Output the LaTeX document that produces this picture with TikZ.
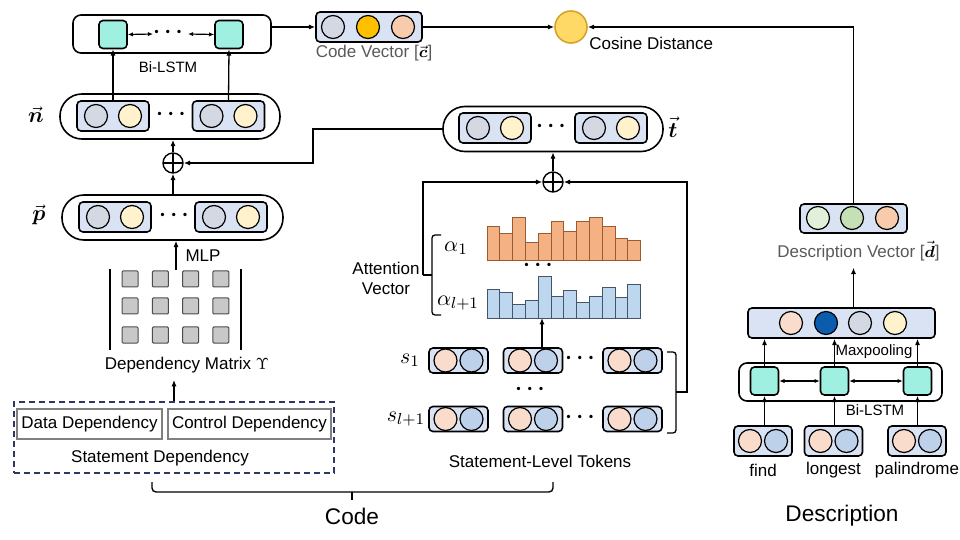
\documentclass[tikz,border=0pt]{standalone}
\usepackage{amsmath,amssymb}
\usepackage{fontspec}
\setmainfont{Liberation Sans}
\usetikzlibrary{arrows.meta}
\definecolor{boxblue}{HTML}{DAE3F3}
\definecolor{cellgray}{HTML}{D3D8E2}
\definecolor{cellcream}{HTML}{FFF2CC}
\definecolor{lstmteal}{HTML}{9FF0E0}
\definecolor{peach}{HTML}{F9DCCB}
\definecolor{tokblue}{HTML}{BDD1EA}
\definecolor{codeorange}{HTML}{FFC000}
\definecolor{salmon}{HTML}{F8CBAD}
\definecolor{cosfill}{HTML}{FFD966}
\definecolor{cosdraw}{HTML}{D4A52A}
\definecolor{lgreen}{HTML}{E2F0D9}
\definecolor{mgreen}{HTML}{C5E0B4}
\definecolor{darkblue}{HTML}{0B5CAD}
\definecolor{barorange}{HTML}{F4B183}
\definecolor{barorangedraw}{HTML}{9C5A2E}
\definecolor{barblue}{HTML}{BDD7EE}
\definecolor{barbluedraw}{HTML}{44546A}
\definecolor{navy}{HTML}{2F3565}
\definecolor{textgray}{HTML}{595959}
\definecolor{matgray}{HTML}{C8C8C8}

\begin{document}
\begin{tikzpicture}[x=0.5pt,y=-0.5pt,
  font=\fontsize{8.5}{10}\selectfont,
  conn/.style={line width=0.65pt,-{Latex[length=3.2pt,width=2.6pt]}},
  biconn/.style={line width=0.6pt,{Latex[length=2.6pt,width=2.2pt]}-{Latex[length=2.6pt,width=2.2pt]}},
  cell/.style={circle,draw,line width=0.6pt,minimum size=11.5pt,inner sep=0pt},
  vecbox/.style={draw,fill=boxblue,rounded corners=2pt,line width=0.8pt,inner sep=0pt,minimum height=15pt},
  pill/.style={draw,rounded corners=11pt,line width=0.8pt,inner sep=0pt,minimum width=110pt,minimum height=22.5pt},
  lstmcell/.style={draw,fill=lstmteal,rounded corners=2pt,line width=0.8pt,minimum size=14pt,inner sep=0pt},
  lstmbox/.style={draw,rounded corners=4pt,line width=0.8pt,inner sep=0pt,minimum height=19pt},
  depbox/.style={draw=gray,line width=1pt,inner sep=0pt,minimum height=15pt},
  matcell/.style={draw=black!70,fill=matgray,line width=0.5pt,rounded corners=0.5pt,minimum size=8pt,inner sep=0pt},
  barA/.style={fill=barorange,draw=barorangedraw,line width=0.4pt},
  barB/.style={fill=barblue,draw=barbluedraw,line width=0.4pt},
  smalltext/.style={font=\fontsize{7.5}{9}\selectfont},
  bigtext/.style={font=\fontsize{11.3}{13}\selectfont},
  mathlabel/.style={font=\fontsize{11}{13}\selectfont,inner sep=1pt},
  dots/.style={font=\fontsize{11}{11}\selectfont,inner sep=0pt}
]
\useasboundingbox (0,0) rectangle (960,540);

% code side: Bi-LSTM on top
\node[lstmbox,minimum width=99pt] (topbox) at (172,34) {};
\node[lstmcell] (tl1) at (113,34.5) {};
\node[lstmcell] (tl2) at (229,34.5) {};
\coordinate (tdl) at (153,34);
\coordinate (tdr) at (188,34);
\node[dots] (tdots) at (170,32) {$\boldsymbol{\cdots}$};
\draw[biconn] (tl1.east) -- (tdl);
\draw[biconn] (tdr) -- (tl2.west);
\node[smalltext] (tllabel) at (168,67) {Bi-LSTM};

% code vector and cosine distance
\node[vecbox,minimum width=53pt] (cv) at (369,27) {};
\node[cell,fill=cellgray] (cva) at (333,27) {};
\node[cell,fill=codeorange] (cvb) at (368,27) {};
\node[cell,fill=salmon] (cvc) at (403,27) {};
\node[text=textgray] (cvlabel) at (374,53) {Code Vector [{\color{black}$\vec{\boldsymbol{c}}$}]};
\node[circle,draw=cosdraw,fill=cosfill,line width=0.8pt,minimum size=16pt,inner sep=0pt] (cos) at (571,27) {};
\node[anchor=west,inner sep=0pt] (coslabel) at (589,43) {Cosine Distance};

% pills n, p, t
\node[pill] (npill) at (170,116.5) {};
\node[pill,minimum width=110.5pt] (ppill) at (172.5,217.5) {};
\node[pill] (tpill) at (553,129) {};
\foreach \nm/\x/\y in {n1/113/116,n2/228.5/116,p1/115/217,p2/231/217,t1/495/128,t2/611/128}{
  \node[vecbox,minimum width=36pt] (\nm) at (\x,\y) {};
  \node[cell,fill=cellgray] (\nm-a) at ([xshift=-8.5pt]\nm.center) {};
  \node[cell,fill=cellcream] (\nm-b) at ([xshift=8.5pt]\nm.center) {};
}
\node[dots] (ndots) at (173,114) {$\boldsymbol{\cdots}$};
\node[dots] (pdots) at (176,215) {$\boldsymbol{\cdots}$};
\node[dots] (tdots2) at (553,126) {$\boldsymbol{\cdots}$};
\node[mathlabel] (nlabel) at (36,115) {$\vec{\boldsymbol{n}}$};
\node[mathlabel] (plabel) at (39,215) {$\vec{\boldsymbol{p}}$};
\node[mathlabel] (tlabel) at (673,127) {$\vec{\boldsymbol{t}}$};

% fusion
\node[circle,draw,line width=0.7pt,minimum size=10pt,inner sep=0pt,
  path picture={\draw[line width=0.7pt] (path picture bounding box.north) -- (path picture bounding box.south)
  (path picture bounding box.west) -- (path picture bounding box.east);}] (op1) at (173,163) {};
\node[circle,draw,line width=0.7pt,minimum size=10pt,inner sep=0pt,
  path picture={\draw[line width=0.7pt] (path picture bounding box.north) -- (path picture bounding box.south)
  (path picture bounding box.west) -- (path picture bounding box.east);}] (op2) at (553,182) {};
\coordinate (tj) at (313,129);

% dependency matrix
\draw[line width=0.8pt] (110,269) -- (110,350) (241,269) -- (241,350);
\foreach \i in {0,1,2,3}
  \foreach \j/\y in {0/279,1/306,2/335}
    \node[matcell] (m\i\j) at ({130+30.3*\i},\y) {};
\coordinate (mattop) at (176,270);
\node (mlplabel) at (203,256) {MLP};
\node (dmlabel) at (187,365) {Dependency Matrix $\Upsilon$};

% statement dependency
\node[draw=navy,line width=0.8pt,dash pattern=on 3pt off 2pt,minimum width=160pt,minimum height=35.5pt,inner sep=0pt] (sd) at (174,437.5) {};
\node[depbox,minimum width=72.5pt] (dd) at (89.5,424) {Data Dependency};
\node[depbox,minimum width=81.5pt] (cd) at (249.5,424) {Control Dependency};
\node (sdlabel) at (160,458) {Statement Dependency};

% attention
\foreach \h [count=\i from 0] in {34,27,43,18,27,39,29,39,43,34,22,20}
  \draw[barA] ({487+12.8*\i},260) rectangle ++(12.8,-\h);
\foreach \h [count=\i from 0] in {29,26,14,18,42,22,28,16,22,31,21,34}
  \draw[barB] ({487+12.8*\i},318) rectangle ++(12.8,-\h);
\node[dots] (adots) at (540,265) {$\boldsymbol{\cdots}$};
\node[mathlabel] (a1label) at (456,248) {$\alpha_1$};
\node[mathlabel] (a2label) at (458,303) {$\alpha_{l+1}$};
\node[align=center,font=\fontsize{8.5}{10}\selectfont] (attlabel) at (386,278) {Attention\\Vector};
\draw[line width=0.65pt,rounded corners=1.5pt] (441,235) -- (432,235) -- (432,315) -- (441,315);
\coordinate (ab) at (423,275);
\draw[line width=0.65pt] (432,275) -- (ab);
\coordinate (barbase) at (542,318);

% statement-level tokens
\foreach \r/\y in {1/360.5,2/419}
  \foreach \c/\x in {1/458.5,2/533,3/632.5}{
    \node[vecbox,minimum width=29.5pt,minimum height=12.5pt] (tk\r\c) at (\x,\y) {};
    \node[cell,fill=peach] (tk\r\c-a) at ([xshift=-6.5pt]tk\r\c.center) {};
    \node[cell,fill=tokblue] (tk\r\c-b) at ([xshift=6.5pt]tk\r\c.center) {};
  }
\node[dots] (tkdots1) at (582,358) {$\boldsymbol{\cdots}$};
\node[dots] (tkdots2) at (582,417) {$\boldsymbol{\cdots}$};
\node[dots] (tkdots3) at (532,389) {$\boldsymbol{\cdots}$};
\node[mathlabel] (s1label) at (410,360) {$s_1$};
\node[mathlabel] (s2label) at (406,419) {$s_{l+1}$};
\draw[line width=0.65pt,rounded corners=1.5pt] (667,352) -- (676,352) -- (676,433) -- (667,433);
\coordinate (tb) at (676,392);
\node (tklabel) at (540,461) {Statement-Level Tokens};

% code brace
\draw[line width=0.7pt,rounded corners=2pt] (152,482) -- (152,492) -- (553,492) -- (553,482);
\draw[line width=0.7pt] (352,492) -- (352,500);
\node[bigtext] (codelabel) at (352,516) {Code};

% description side
\node[vecbox,minimum width=53.5pt,minimum height=14.5pt] (dv) at (853.5,218.5) {};
\node[cell,fill=lgreen] (dva) at (818,218) {};
\node[cell,fill=mgreen] (dvb) at (852,218) {};
\node[cell,fill=salmon] (dvc) at (887,218) {};
\node[text=textgray] (dvlabel) at (858.5,251) {Description Vector [{\color{black}$\vec{\boldsymbol{d}}$}]};
\node[vecbox,minimum width=93.5pt] (mp) at (841.5,323) {};
\node[cell,fill=peach] (mpa) at (791,323) {};
\node[cell,fill=darkblue] (mpb) at (826,323) {};
\node[cell,fill=cellgray] (mpc) at (860,323) {};
\node[cell,fill=cellcream] (mpd) at (895,323) {};
\node[smalltext] (mplabel) at (874,352) {Maxpooling};
\node[lstmbox,minimum width=101.5pt] (rbox) at (840.5,382) {};
\node[lstmcell] (rl1) at (764.5,381) {};
\node[lstmcell] (rl2) at (834.5,381) {};
\node[lstmcell] (rl3) at (917.5,381) {};
\node[smalltext] (rllabel) at (875,410) {Bi-LSTM};
\foreach \nm/\x/\word in {w1/763/find,w2/833.5/longest,w3/917/palindrome}{
  \node[vecbox,minimum width=29pt] (\nm) at (\x,441) {};
  \node[cell,fill=peach] (\nm-a) at ([xshift=-6.5pt]\nm.center) {};
  \node[cell,fill=tokblue] (\nm-b) at ([xshift=6.5pt]\nm.center) {};
  \node (\nm-label) at (\x,470) {\word};
}
\node[bigtext] (desclabel) at (842,516) {Description};

% connectors
\draw[conn] (n1.north) -- (tl1.south);
\draw[conn] (n2.north) -- (tl2.south);
\draw[conn] (cv.west -| topbox.east) -- (cv.west);
\draw[conn] (cv.east) -- (cos.west);
\draw[conn] (dv.north) |- (cos.east);
\draw[conn] (op1.north) -- (op1.north |- npill.south);
\draw[conn] (op1.south |- ppill.north) -- (op1.south);
\draw[conn] (tpill.west) -- (tj) |- (op1.east);
\draw[conn] (mattop) -- (mattop |- ppill.south);
\draw[conn] (sd.north) -- (sd.north |- dmlabel.south);
\draw[conn] (op2.north) -- (tpill.south);
\draw[conn] (ab) |- (op2.west);
\draw[conn] (tb) -- ++(11,0) |- (op2.east);
\draw[conn] (barbase |- tk12.north) -- (barbase);
\draw[biconn] (rl1.east) -- (rl2.west);
\draw[biconn] (rl2.east) -- (rl3.west);
\foreach \i in {1,2,3}{
  \draw[conn] (w\i.north -| rl\i) -- (rl\i.south);
  \draw[conn] (rl\i.north) -- (rl\i.north |- mp.south);
}
\draw[conn] (mp.north -| dv) -- (dvlabel.south -| dv);
\end{tikzpicture}
\end{document}
